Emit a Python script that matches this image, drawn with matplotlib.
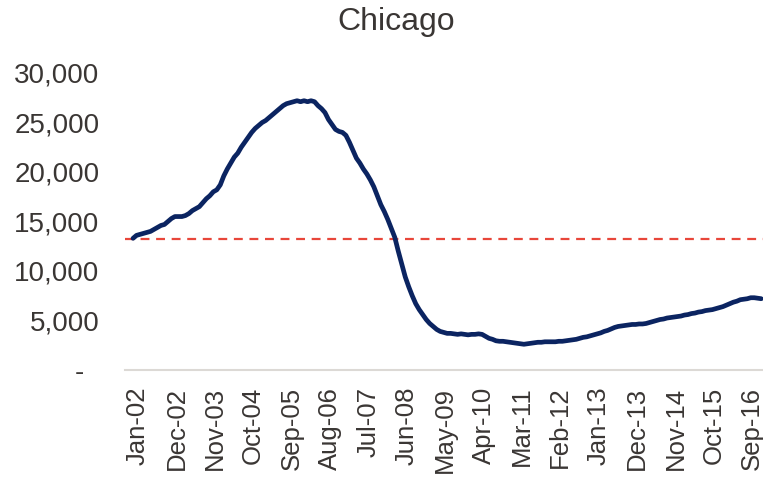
import numpy as np
import matplotlib
matplotlib.use('Agg')
import matplotlib.pyplot as plt
import matplotlib.transforms as mtransforms
from matplotlib.ticker import FuncFormatter

# monthly values, Jan-02 .. Jan-17 (thousands)
values_k = [
	13.3, 13.6, 13.7, 13.8, 13.9, 14.0, 14.2, 14.4, 14.6, 14.7, 15.0, 15.3,
	15.5, 15.5, 15.5, 15.6, 15.8, 16.1, 16.3, 16.5, 16.9, 17.3, 17.6, 18.0,
	18.2, 18.7, 19.6, 20.3, 20.9, 21.5, 21.9, 22.5, 23.0, 23.5, 24.0, 24.4,
	24.7, 25.0, 25.2, 25.5, 25.8, 26.1, 26.4, 26.7, 26.9, 27.0, 27.1, 27.2,
	27.1, 27.2, 27.1, 27.2, 27.1, 26.7, 26.4, 26.0, 25.3, 24.8, 24.3, 24.1,
	24.0, 23.7, 23.0, 22.2, 21.4, 20.9, 20.3, 19.8, 19.2, 18.5, 17.6, 16.7,
	16.0, 15.2, 14.3, 13.4, 12.0, 10.7, 9.4, 8.4, 7.5, 6.7, 6.1, 5.6,
	5.1, 4.7, 4.4, 4.1, 3.9, 3.8, 3.7, 3.7, 3.65, 3.6, 3.65, 3.6,
	3.55, 3.6, 3.6, 3.65, 3.6, 3.4, 3.2, 3.1, 2.95, 2.9, 2.9, 2.85,
	2.8, 2.75, 2.7, 2.65, 2.6, 2.65, 2.7, 2.75, 2.8, 2.8, 2.85, 2.85,
	2.85, 2.85, 2.9, 2.9, 2.95, 3.0, 3.05, 3.1, 3.2, 3.3, 3.35, 3.45,
	3.55, 3.65, 3.75, 3.9, 4.0, 4.15, 4.3, 4.4, 4.45, 4.5, 4.55, 4.6,
	4.6, 4.65, 4.65, 4.7, 4.8, 4.9, 5.0, 5.1, 5.15, 5.25, 5.3, 5.35,
	5.4, 5.45, 5.55, 5.6, 5.7, 5.75, 5.85, 5.9, 6.0, 6.05, 6.1, 6.2,
	6.3, 6.4, 6.55, 6.7, 6.85, 6.95, 7.1, 7.15, 7.2, 7.3, 7.3, 7.25,
	7.2,
]
reference_level = 13250

tick_labels = ['Jan-02', 'Dec-02', 'Nov-03', 'Oct-04', 'Sep-05', 'Aug-06',
	'Jul-07', 'Jun-08', 'May-09', 'Apr-10', 'Mar-11', 'Feb-12', 'Jan-13',
	'Dec-13', 'Nov-14', 'Oct-15', 'Sep-16']
tick_step = 11  # months between labels

y_ticks = [0, 5000, 10000, 15000, 20000, 25000, 30000]

values = np.array(values_k) * 1000
months = np.arange(len(values))

plt.rcParams['font.family'] = ['Liberation Sans', 'DejaVu Sans']
text_col = '#3a3634'

fig = plt.figure(figsize=(7.63, 4.78), dpi=100)
ax = fig.add_axes([125/763, 1 - 370/478, 1 - 125/763, (370 - 73)/478])

ax.axhline(reference_level, color='#e8463a', lw=1.6, ls=(0, (4, 3)), zorder=2)
ax.plot(months, values, color='#0b2461', lw=3.4, solid_capstyle='round', zorder=3)

ax.set_xlim(-2.3, len(values) - 0.5)
ax.set_ylim(0, 30000)
ax.set_yticks(y_ticks)
# excel accounting style: zero shown as a dash
ax.yaxis.set_major_formatter(FuncFormatter(lambda v, p: '-  ' if v == 0 else f'{int(v):,}'))
ax.set_xticks(np.arange(len(tick_labels)) * tick_step)
ax.set_xticklabels(tick_labels, rotation=90)

ax.tick_params(length=0, colors=text_col)
ax.tick_params(axis='y', pad=18.5, labelsize=20)
ax.tick_params(axis='x', pad=12, labelsize=18.5)
shift = mtransforms.ScaledTranslation(5/100, 0, fig.dpi_scale_trans)
for lbl in ax.get_xticklabels():
	lbl.set_transform(lbl.get_transform() + shift)
for s in ['top', 'right', 'left']:
	ax.spines[s].set_visible(False)
ax.spines['bottom'].set_color('#dcd9d5')
ax.spines['bottom'].set_linewidth(1.5)

fig.text(396/763, 1 - 22/478, 'Chicago', ha='center', va='center', fontsize=23, color=text_col)

fig.savefig('out.png', dpi=100)
